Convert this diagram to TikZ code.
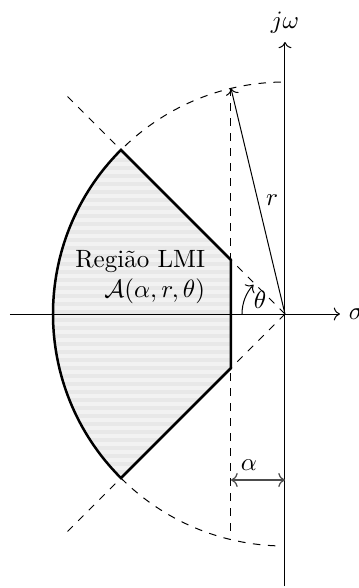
\documentclass[tikz,border=0pt]{standalone}
\usetikzlibrary{arrows.meta}
\begin{document}
\begin{tikzpicture}[x=0.4pt,y=0.4pt,
  axis/.style={->,line width=0.4pt},
  guide/.style={dashed,line width=0.4pt},
  bound/.style={line width=1pt},
  lbl/.style={inner sep=3.33pt}]
\useasboundingbox (-285,-274) rectangle (74,314);
% coordinates
\coordinate (O) at (0,0);
\coordinate (xl) at (-275,0);
\coordinate (xr) at (55,0);
\coordinate (yb) at (0,-272);
\coordinate (yt) at (0,272);
\coordinate (Ct) at (135:232);
\coordinate (Cb) at (225:232);
\coordinate (At) at (-54,54);
\coordinate (Ab) at (-54,-54);
\coordinate (Rt) at (-54,225.6);
\coordinate (Rb) at (-54,-218);
\coordinate (Lt) at (135:311);
\coordinate (Lb) at (225:311);
% shaded region
\begin{scope}
\clip (Ct) arc[start angle=135,end angle=225,radius=232] -- (Ab) -- (At) -- cycle;
\fill[gray!10] (-240,-240) rectangle (-40,240);
\foreach \yy in {-240,-232,...,240}
  \fill[gray!18] (-240,\yy) rectangle (-40,\yy+4);
\end{scope}
% guides
\draw[guide] (O) -- (Lt);
\draw[guide] (O) -- (Lb);
\draw[guide] (91:232) arc[start angle=91,end angle=135,radius=232];
\draw[guide] (225:232) arc[start angle=225,end angle=269,radius=232];
\draw[guide] (Rt) -- (Rb);
% axes
\draw[axis] (xl) -- (xr) node[lbl,anchor=west] (sig) {$\sigma$};
\draw[axis] (yb) -- (yt) node[lbl,anchor=south] (jw) {$j\omega$};
% boundary
\draw[bound] (Ct) arc[start angle=135,end angle=225,radius=232] -- (Ab) -- (At) -- cycle;
% radius arrow
\draw[->,line width=0.4pt] (O) -- (Rt);
\node[lbl] (rl) at (-13,114) {$r$};
% theta
\draw[->,line width=0.4pt] (180:43) arc[start angle=180,end angle=137,radius=43];
\node[lbl] (th) at (-25,14) {$\theta$};
% alpha
\coordinate (a1) at (-54,-166);
\coordinate (a2) at (0,-166);
\draw[<->,line width=0.5pt,black!70] (a1) -- (a2);
\node[lbl] (al) at (-36,-151) {$\alpha$};
% region label
\node[lbl,anchor=base east] (reg1) at (-71,47) {Região LMI};
\node[lbl,anchor=base east] (reg2) at (-71,17) {$\mathcal{A}(\alpha,r,\theta)$};
\end{tikzpicture}
\end{document}
